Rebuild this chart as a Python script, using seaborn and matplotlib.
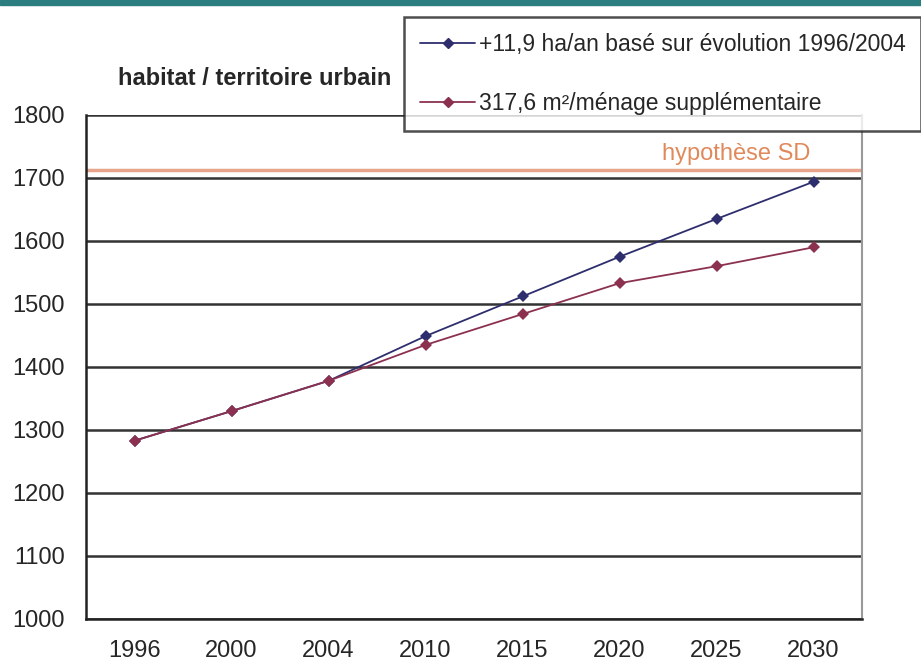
import matplotlib.pyplot as plt
import matplotlib.patches as mpatches
import pandas as pd
import seaborn as sns

years = ["1996", "2000", "2004", "2010", "2015", "2020", "2025", "2030"]
trend_values = [1283, 1330, 1378, 1449, 1512, 1575, 1635, 1694]
menage_values = [1283, 1330, 1378, 1435, 1484, 1533, 1560, 1590]
label_trend = "+11,9 ha/an basé sur évolution 1996/2004"
label_menage = "317,6 m²/ménage supplémentaire"
hypothese_sd = 1713

df = pd.DataFrame({
    "annee": years * 2,
    "surface": trend_values + menage_values,
    "serie": [label_trend] * len(years) + [label_menage] * len(years),
})

sns.set_style("white")
plt.rcParams["font.family"] = ["Liberation Sans", "DejaVu Sans"]

fig = plt.figure(figsize=(9.21, 6.62), dpi=100)
ax = fig.add_axes([0.0934, 0.065, 0.8426, 0.7613])

# reference line first so the series sit on top
ax.axhline(hypothese_sd, color="#e9a48c", linewidth=2.5, zorder=1)
ax.text(6.2, hypothese_sd + 8, "hypothèse SD", color="#e08a5c",
        fontsize=17, ha="center", va="bottom")

sns.lineplot(data=df, x="annee", y="surface", hue="serie",
             palette={label_trend: "#2e2e6e", label_menage: "#8c3050"},
             marker="D", markersize=6, linewidth=1.3, markeredgewidth=0,
             ax=ax, legend=False, zorder=3)

ax.set_ylim(1000, 1800)
ax.set_xlim(-0.5, len(years) - 0.5)
ax.set_yticks(range(1000, 1801, 100))
ax.set_xticks(range(len(years)))
ax.set_xticklabels(years)
ax.set_xticks([i - 0.5 for i in range(len(years) + 1)], minor=True)
ax.tick_params(axis="x", which="major", length=0, pad=15, labelsize=17)
ax.tick_params(axis="x", which="minor", length=6, width=1.5, color="#222222",
               direction="out")
ax.tick_params(axis="y", length=7, width=1.5, color="#222222", pad=8,
               labelsize=17, direction="out")
ax.set_xlabel("")
ax.set_ylabel("")

ax.yaxis.grid(True, color="#333333", linewidth=1.8)
ax.set_axisbelow(True)
ax.spines["top"].set_visible(False)
ax.spines["left"].set_color("#222222")
ax.spines["left"].set_linewidth(1.8)
ax.spines["bottom"].set_color("#222222")
ax.spines["bottom"].set_linewidth(1.8)
ax.spines["right"].set_color("#999999")
ax.spines["right"].set_linewidth(1.5)

fig.text(0.277, 0.882, "habitat / territoire urbain", fontsize=17,
         fontweight="bold", ha="center", va="center")

# teal band across the top
fig.add_artist(mpatches.Rectangle((0, 0.992), 1, 0.008, transform=fig.transFigure,
                                  color="#2b7d80"))

handles = [
    plt.Line2D([], [], color="#2e2e6e", marker="D", markersize=5, linewidth=1.3),
    plt.Line2D([], [], color="#8c3050", marker="D", markersize=5, linewidth=1.3),
]
leg = fig.legend(handles, [label_trend, label_menage], loc="upper left",
                 bbox_to_anchor=(0.4387, 0.9743), fontsize=16.5, frameon=True,
                 fancybox=False, edgecolor="#222222", handlelength=2.4,
                 handletextpad=0.15, borderpad=0.7, labelspacing=1.55,
                 borderaxespad=0)
leg.get_frame().set_linewidth(1.8)

fig.savefig("out.png", dpi=100, facecolor="white")
